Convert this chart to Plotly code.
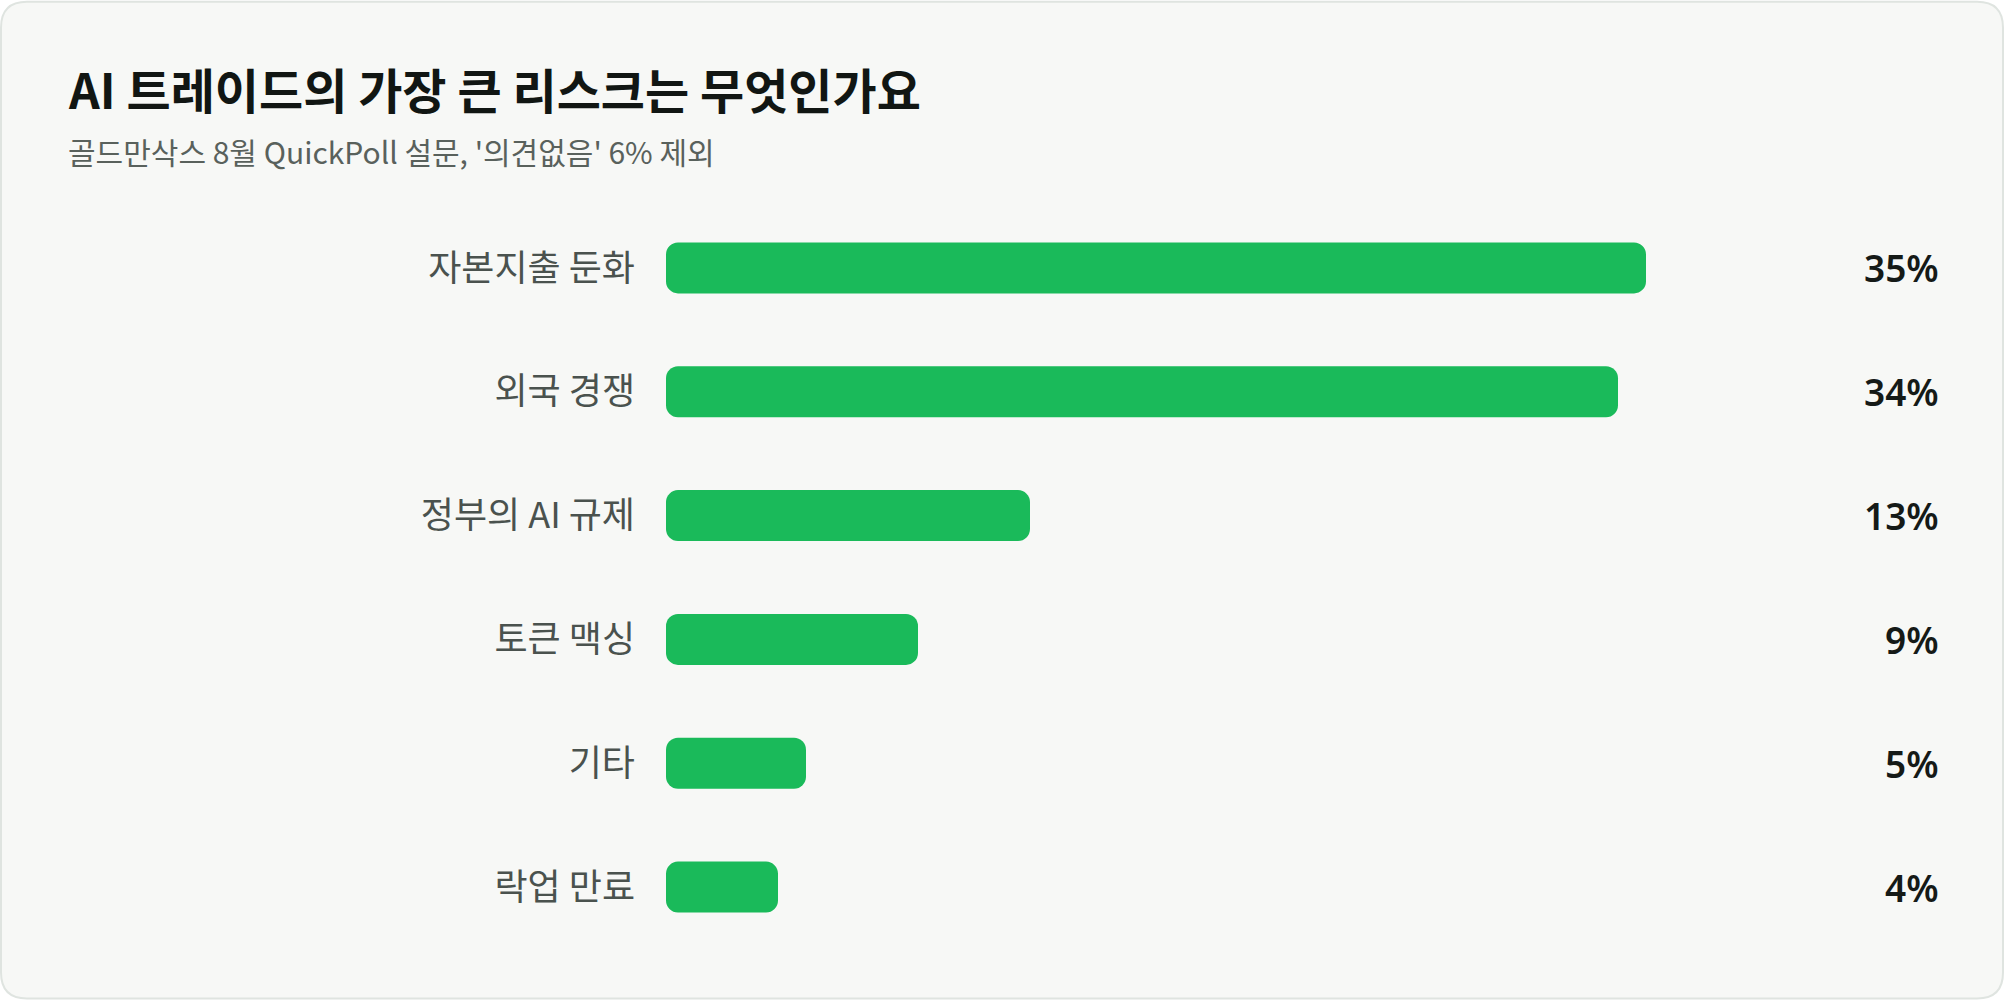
import plotly.graph_objects as go

categories = ["자본지출 둔화", "외국 경쟁", "정부의 AI 규제", "토큰 맥싱", "기타", "락업 만료"]
values = [35, 34, 13, 9, 5, 4]
value_labels = [f"{v}%" for v in values]

title_text = "AI 트레이드의 가장 큰 리스크는 무엇인가요"
subtitle_text = "골드만삭스 8월 QuickPoll 설문, '의견없음' 6% 제외"

W, H = 2004, 1000
L, R, T, B = 666, 78, 205.5, 50.5
plot_w = W - L - R

BAR = "#1aba5a"
BG = "#f7f8f6"

fig = go.Figure()
# an explicit base makes plotly round both ends of each bar
fig.add_trace(go.Bar(
    x=values, base=[0] * len(values), y=categories, orientation="h",
    marker=dict(color=BAR, cornerradius=12, line=dict(width=0)),
    hoverinfo="skip",
))

for cat, lab in zip(categories, value_labels):
    fig.add_annotation(
        x=(1941 - L) / plot_w, xref="paper", y=cat, yref="y",
        text=lab, showarrow=False, xanchor="right", yanchor="middle",
        font=dict(family="Noto Sans, Noto Sans CJK KR", size=37, color="#151a17", weight=600),
    )

fig.add_annotation(
    x=(66 - L) / plot_w, xref="paper", y=(H - 87 - B) / (H - T - B), yref="paper",
    text=f"<b>{title_text}</b>", showarrow=False, xanchor="left", yanchor="middle",
    font=dict(family="Noto Sans CJK KR", size=48, color="#111613"),
)
fig.add_annotation(
    x=(66 - L) / plot_w, xref="paper", y=(H - 150 - B) / (H - T - B), yref="paper",
    text=subtitle_text, showarrow=False, xanchor="left", yanchor="middle",
    font=dict(family="Noto Sans CJK KR", size=30, color="#59615c"),
)

def px(xp):
    return (xp - L) / plot_w
def py(yp):
    return (H - B - yp) / (H - T - B)

r = 26
x0, x1, y0, y1 = 1, W - 1, 1, H - 1
path = (f"M {px(x0 + r)} {py(y0)} L {px(x1 - r)} {py(y0)} "
        f"Q {px(x1)} {py(y0)} {px(x1)} {py(y0 + r)} L {px(x1)} {py(y1 - r)} "
        f"Q {px(x1)} {py(y1)} {px(x1 - r)} {py(y1)} L {px(x0 + r)} {py(y1)} "
        f"Q {px(x0)} {py(y1)} {px(x0)} {py(y1 - r)} L {px(x0)} {py(y0 + r)} "
        f"Q {px(x0)} {py(y0)} {px(x0 + r)} {py(y0)} Z")
fig.add_shape(type="path", path=path, xref="paper", yref="paper",
              fillcolor=BG, line=dict(color="#dfe4e0", width=2), layer="below")

fig.update_layout(
    width=W, height=H,
    margin=dict(l=L, r=R, t=T, b=B, pad=0),
    paper_bgcolor="white", plot_bgcolor="rgba(0,0,0,0)",
    bargap=1 - 51 / 124,
    showlegend=False,
    xaxis=dict(range=[0, plot_w / 28], visible=False, fixedrange=True),
    yaxis=dict(autorange="reversed", showgrid=False, zeroline=False, showline=False,
               ticks="", ticklabelstandoff=30,
               tickfont=dict(family="Noto Sans CJK KR", size=36, color="#4a524e"),
               fixedrange=True),
)

fig.write_html("out.html", config={"displayModeBar": False},
               post_script="document.body.style.margin='0';document.body.style.overflow='hidden';")
